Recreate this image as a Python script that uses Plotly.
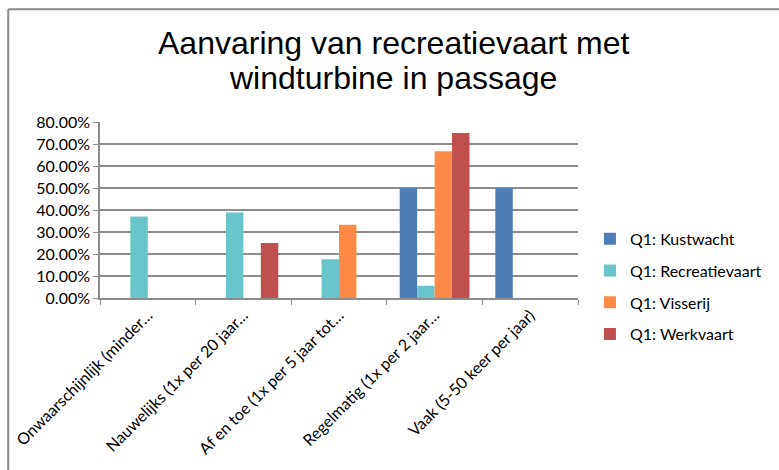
import plotly.graph_objects as go

# Answer categories (as shown on the axis)
categories = [
    "Onwaarschijnlijk (minder…",
    "Nauwelijks (1x per 20 jaar…",
    "Af en toe (1x per 5 jaar tot…",
    "Regelmatig (1x per 2 jaar…",
    "Vaak (5-50 keer per jaar)",
]

# Share of respondents per group (fractions)
kustwacht = [None, None, None, 0.50, 0.50]
recreatievaart = [0.3704, 0.3889, 0.1759, 0.0556, None]
visserij = [None, None, 0.3333, 0.6667, None]
werkvaart = [None, 0.25, None, 0.75, None]

series_names = ["Q1: Kustwacht", "Q1: Recreatievaart", "Q1: Visserij", "Q1: Werkvaart"]
series_values = [kustwacht, recreatievaart, visserij, werkvaart]
series_colors = ["#4f7db8", "#67c5cb", "#ff8a47", "#c0504d"]

y_ticks = [0, 0.1, 0.2, 0.3, 0.4, 0.5, 0.6, 0.7, 0.8]

title_lines = ["Aanvaring van recreatievaart met", "windturbine in passage"]

body_font = "Lato, 'Liberation Sans', Arial, sans-serif"
title_font = "'Liberation Sans', Arial, sans-serif"

fig = go.Figure()
for name, vals, col in zip(series_names, series_values, series_colors):
    fig.add_trace(go.Bar(
        name=name, x=categories, y=vals,
        marker=dict(color=col, line=dict(width=0)),
        legendgroup=name,
    ))

fig.update_layout(
    width=779, height=470,
    margin=dict(l=100, r=195, t=122, b=172),
    paper_bgcolor="white", plot_bgcolor="white",
    barmode="group", bargap=0.27, bargroupgap=0,
    legend=dict(
        x=1.025, xanchor="left", y=0.433, yanchor="top",
        font=dict(family=body_font, size=16, color="#000000"),
        tracegroupgap=8, bgcolor="rgba(0,0,0,0)",
    ),
    font=dict(family=body_font, color="#000000"),
)

# Two-line chart title
for line, ypix in zip(title_lines, [43, 78]):
    fig.add_annotation(
        text=line, xref="paper", yref="paper",
        x=(397 - 100) / 484, y=(298 - ypix) / 176,
        xanchor="center", yanchor="middle", showarrow=False,
        font=dict(family=title_font, size=32, color="#000000"),
    )

fig.update_yaxes(
    range=[0, 0.8], tickvals=y_ticks, tickformat=".2%",
    showgrid=True, gridcolor="#8c8c8c", gridwidth=1.5,
    showline=True, linecolor="#8c8c8c", linewidth=1.5,
    ticks="outside", ticklen=5, tickcolor="#8c8c8c",
    tickfont=dict(family=body_font, size=16, color="#000000"),
    zeroline=False,
)
fig.update_xaxes(
    tickangle=-45, tickson="boundaries", ticks="outside", ticklen=5,
    tickcolor="#8c8c8c",
    showline=True, linecolor="#8c8c8c", linewidth=1.5,
    tickfont=dict(family=body_font, size=16, color="#000000"),
)

# Chart frame (top and left edges)
fig.add_shape(type="line", xref="paper", yref="paper",
              x0=-0.192, x1=1.5, y0=1.64, y1=1.64,
              line=dict(color="#8a8a8a", width=2))
fig.add_shape(type="line", xref="paper", yref="paper",
              x0=-0.192, x1=-0.192, y0=1.64, y1=-1.2,
              line=dict(color="#8a8a8a", width=2))

fig.write_html("out.html")
